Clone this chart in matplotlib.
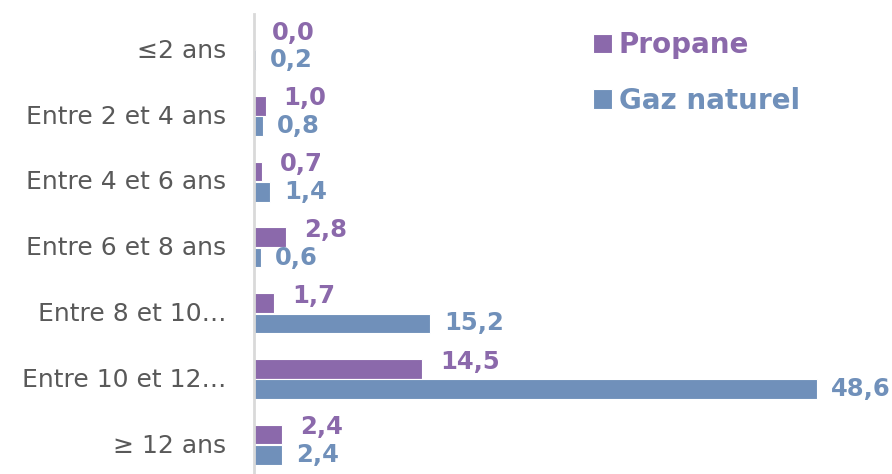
import numpy as np
import matplotlib.pyplot as plt

categories = ["\u22642 ans", "Entre 2 et 4 ans", "Entre 4 et 6 ans", "Entre 6 et 8 ans",
              "Entre 8 et 10\u2026", "Entre 10 et 12\u2026", "\u2265 12 ans"]
propane = [0.0, 1.0, 0.7, 2.8, 1.7, 14.5, 2.4]
gaz_naturel = [0.2, 0.8, 1.4, 0.6, 15.2, 48.6, 2.4]

c_prop = "#8b69ab"
c_gaz = "#7090ba"

fig = plt.figure(figsize=(8.92, 4.74), dpi=100)
ax = fig.add_axes([0.2848, 0.0, 0.7152, 0.97])

y = np.arange(len(categories))
h = 0.30
off_p = -0.13
off_g = 0.18
ax.barh(y + off_p, propane, height=h, color=c_prop, edgecolor="white", linewidth=0.8, label="Propane")
ax.barh(y + off_g, gaz_naturel, height=h, color=c_gaz, edgecolor="white", linewidth=0.8, label="Gaz naturel")

def fmt(v):
    return f"{v:.1f}".replace(".", ",")

for i in range(len(categories)):
    ax.annotate(fmt(propane[i]), (propane[i], y[i] + off_p - 0.11), xytext=(13, 0),
                textcoords="offset points", va="center", ha="left",
                color=c_prop, fontsize=17.5, fontweight="bold")
    ax.annotate(fmt(gaz_naturel[i]), (gaz_naturel[i], y[i] + off_g), xytext=(10, 0),
                textcoords="offset points", va="center", ha="left",
                color=c_gaz, fontsize=17.5, fontweight="bold")

ax.set_yticks(y)
ax.set_yticklabels(categories, fontsize=18, color="#595959")
ax.tick_params(axis="y", length=0, pad=20)
ax.set_ylim(6.47, -0.52)
ax.set_xlim(0, 55.1)
ax.set_xticks([])
for s in ["top", "right", "bottom"]:
    ax.spines[s].set_visible(False)
ax.spines["left"].set_color("#d9d9d9")
ax.spines["left"].set_linewidth(2)

leg = fig.legend(loc="upper left", bbox_to_anchor=(593 / 892, 1 - 31 / 474), frameon=False,
                 borderpad=0, borderaxespad=0,
                 handlelength=0.7, handleheight=0.7, handletextpad=0.22,
                 labelspacing=1.0, prop={"size": 20, "weight": "bold"})
for t, c in zip(leg.get_texts(), [c_prop, c_gaz]):
    t.set_color(c)

fig.savefig("out.png", dpi=100)
